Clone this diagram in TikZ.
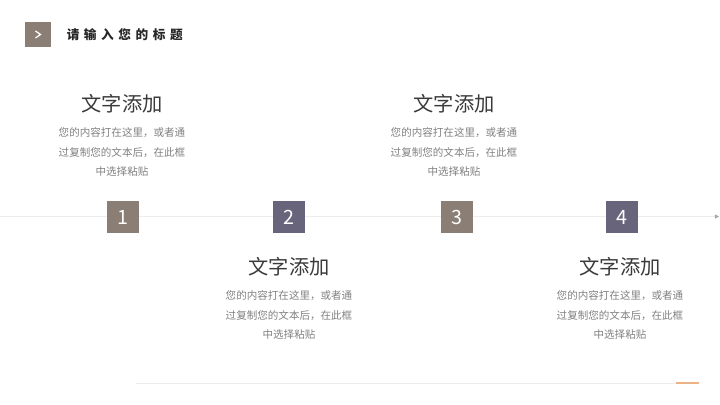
\documentclass[tikz,border=0pt]{standalone}
\usepackage{fontspec}
\setmainfont{Noto Sans CJK SC}
\newfontfamily\headfont[LetterSpace=36]{Noto Sans CJK SC}
\usetikzlibrary{arrows.meta, positioning}

\definecolor{taupe}{HTML}{8B7E74}
\definecolor{slate}{HTML}{67647B}
\definecolor{ink}{HTML}{3A3A3A}
\definecolor{note}{HTML}{808080}
\definecolor{rulegray}{HTML}{EDEDED}
\definecolor{accent}{HTML}{EDB386}

\begin{document}
\begin{tikzpicture}[
        x=0.025cm, y=-0.025cm,
        stepno/.style={rectangle, minimum size=0.8cm, inner sep=0pt, text=white, font=\fontsize{14}{14}\selectfont},
        headline/.style={font=\fontsize{14.4}{16}\selectfont, text=ink, inner sep=0pt},
        bodytext/.style={font=\fontsize{7.5}{13.9}\selectfont, text=note, align=center, inner sep=0pt},
        axis/.style={rulegray, line width=0.6pt}
    ]
        \useasboundingbox (0,0) rectangle (720,405);

        % 1. Header
        \node (hd) [rectangle, fill=taupe, minimum size=0.64cm, inner sep=0pt] at (38,34.5) {};
        \draw [white, line width=0.9pt, shift={(hd.center)}] (-2.5,-3.5) -- (2.5,0) -- (-2.5,3.5);
        \node (title) [anchor=west, inner sep=0pt, text=black!85, font=\headfont\fontsize{9}{9}\selectfont\bfseries] at (66.5,34.5) {请输入您的标题};

        % 2. Time axis
        \coordinate (lstart) at (0,216.5);
        \coordinate (lend) at (719,216.5);
        \draw [axis, -{Triangle[length=3pt, width=3pt, color=black!35]}] (lstart) -- (lend);

        % 3. Steps
        \node (n1) [stepno, fill=taupe] at (123,217) {1};
        \node (n2) [stepno, fill=slate] at (289,217) {2};
        \node (n3) [stepno, fill=taupe] at (456.5,217) {3};
        \node (n4) [stepno, fill=slate] at (622,217) {4};

        % 4. Text blocks (above / below)
        \node (t1) [headline] at (122,104) {文字添加};
        \node (b1) [bodytext] at (122,152) {您的内容打在这里，或者通\\过复制您的文本后，在此框\\中选择粘贴};

        \node (t2) [headline] at (289,267) {文字添加};
        \node (b2) [bodytext] at (289,315) {您的内容打在这里，或者通\\过复制您的文本后，在此框\\中选择粘贴};

        \node (t3) [headline] at (454,104) {文字添加};
        \node (b3) [bodytext] at (454,152) {您的内容打在这里，或者通\\过复制您的文本后，在此框\\中选择粘贴};

        \node (t4) [headline] at (620,267) {文字添加};
        \node (b4) [bodytext] at (620,315) {您的内容打在这里，或者通\\过复制您的文本后，在此框\\中选择粘贴};

        % 5. Footer rule
        \coordinate (fstart) at (136,383);
        \coordinate (fend) at (676,383);
        \coordinate (astart) at (676,383);
        \coordinate (aend) at (699,383);
        \draw [axis] (fstart) -- (fend);
        \draw [accent, line width=1.5pt] (astart) -- (aend);

    \end{tikzpicture}
\end{document}
